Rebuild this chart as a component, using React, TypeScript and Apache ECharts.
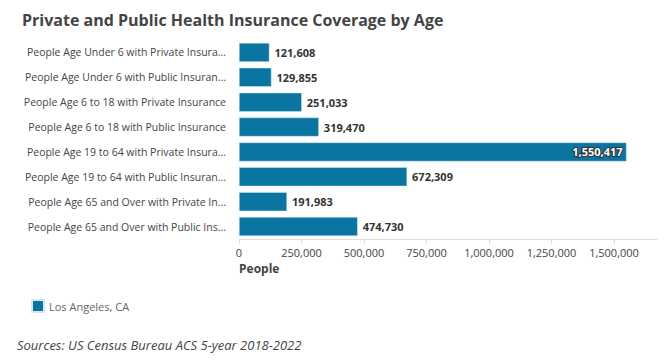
import React, { useEffect, useRef } from "react";
import * as echarts from "echarts";

const categories = [
  "People Age Under 6 with Private Insurance",
  "People Age Under 6 with Public Insurance",
  "People Age 6 to 18 with Private Insurance",
  "People Age 6 to 18 with Public Insurance",
  "People Age 19 to 64 with Private Insurance",
  "People Age 19 to 64 with Public Insurance",
  "People Age 65 and Over with Private Insurance",
  "People Age 65 and Over with Public Insurance",
];
const values = [121608, 129855, 251033, 319470, 1550417, 672309, 191983, 474730];
const tickValues = [0, 250000, 500000, 750000, 1000000, 1250000, 1500000];
const seriesName = "Los Angeles, CA";

const FONT = "'Open Sans', 'Noto Sans', sans-serif";
const CAT_FONT_SIZE = 10.5;

export default function App() {
  const ref = useRef<HTMLDivElement>(null);
  useEffect(() => {
    if (!ref.current) return;
    const chart = echarts.init(ref.current, undefined, { renderer: "svg" });
    const maxVal = Math.max(...values);
    const catFont = `normal normal normal ${CAT_FONT_SIZE}px ${FONT}`;
    const wFit = echarts.format.getTextRect
      ? (echarts.format as any).getTextRect(categories[2], catFont).width
      : 205;
    const labelWidth = Math.ceil(wFit + 1.5);
    chart.setOption({
      animation: false,
      title: {
        text: "Private and Public Health Insurance Coverage by Age",
        left: 17,
        top: 7,
        textStyle: { fontFamily: FONT, fontWeight: "bold", fontSize: 16, color: "#444" },
      },
      legend: {
        left: 26,
        top: 294,
        itemWidth: 12,
        itemHeight: 12,
        itemGap: 6,
        icon: "rect",
        textStyle: { fontFamily: FONT, fontSize: 11, color: "#666" },
        data: [seriesName],
      },
      grid: { left: 239, right: 13, top: 40, height: 199, containLabel: false },
      xAxis: {
        type: "value",
        min: 0,
        max: 1672000,
        interval: 250000,
        splitLine: { show: false },
        axisLine: { show: true, lineStyle: { color: "#ddd", width: 1 } },
        axisTick: { show: true, length: 5, lineStyle: { color: "#ddd" }, customValues: tickValues },
        axisLabel: {
          customValues: tickValues,
          fontFamily: FONT,
          fontSize: 11,
          color: "#444",
          margin: 8,
          formatter: (v: number) => v.toLocaleString("en-US"),
        },
      },
      yAxis: {
        type: "category",
        inverse: true,
        data: categories,
        axisLine: { show: false },
        axisTick: { show: false },
        axisLabel: {
          fontFamily: FONT,
          fontSize: CAT_FONT_SIZE,
          color: "#444",
          margin: 13,
          width: labelWidth,
          overflow: "truncate",
          ellipsis: "...",
        },
      },
      series: [
        {
          name: seriesName,
          type: "bar",
          barWidth: 19,
          itemStyle: { color: "#0b75a2", borderColor: "#d7e8f0", borderWidth: 0.5 },
          data: values.map((v) => ({
            value: v,
            label:
              v === maxVal
                ? {
                    show: true,
                    position: "insideRight",
                    distance: 4,
                    color: "#fff",
                    textBorderColor: "#333",
                    textBorderWidth: 2,
                  }
                : { show: true, position: "right", distance: 5, color: "#333" },
          })),
          label: {
            show: true,
            fontFamily: FONT,
            fontWeight: "bold",
            fontSize: 11,
            formatter: (p: any) => Number(p.value).toLocaleString("en-US"),
          },
        },
      ],
      graphic: [
        {
          type: "text",
          left: 239,
          top: 262,
          style: { text: "People", font: `bold 12px ${FONT}`, fill: "#444" },
        },
        {
          type: "text",
          left: 17,
          top: 338,
          style: {
            text: "Sources: US Census Bureau ACS 5-year 2018-2022",
            font: `italic 13px ${FONT}`,
            fill: "#444",
          },
        },
      ],
    });
    return () => chart.dispose();
  }, []);
  return <div ref={ref} style={{ width: 670, height: 361, position: "absolute", left: 0, top: 0 }} />;
}
